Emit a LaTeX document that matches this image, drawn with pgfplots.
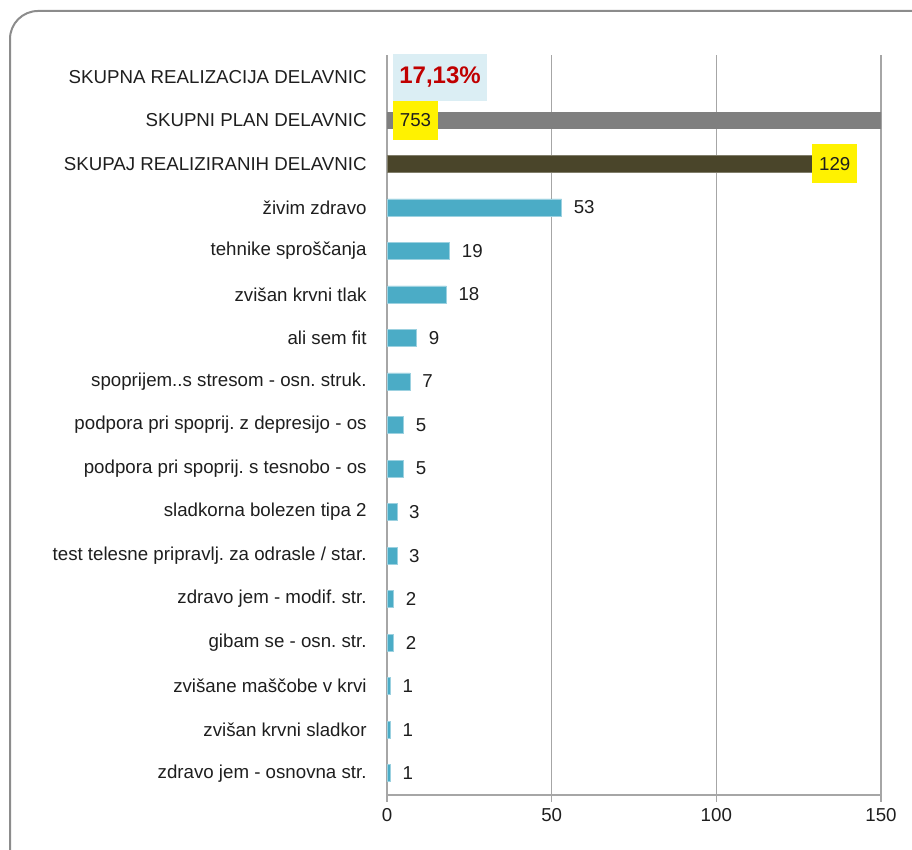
\documentclass[border=0pt]{standalone}
\usepackage{fontspec}
\setmainfont{Liberation Sans}
\usepackage{pgfplots}
\pgfplotsset{compat=1.18}

\definecolor{barblue}{HTML}{4BACC6}
\definecolor{bargray}{HTML}{7F7F7F}
\definecolor{bardark}{HTML}{4A452A}
\definecolor{gridgray}{HTML}{A6A6A6}
\definecolor{framegray}{HTML}{8C8C8C}
\definecolor{boxblue}{HTML}{DBEEF4}
\definecolor{labred}{HTML}{C00000}
\definecolor{txt}{HTML}{1E1E1E}

% rows counted from the bottom: 0 = zdravo jem - osnovna str.
\pgfplotstableread{
y  v
13 53
12 19
11 18
10 9
9  7
8  5
7  5
6  3
5  3
4  2
3  2
2  1
1  1
0  1
}\workshops

\begin{document}
\frenchspacing
\fontsize{18.7pt}{22pt}\selectfont
\begin{tikzpicture}[x=1pt,y=1pt]
\path[use as bounding box, clip] (0,0) rectangle (912,850);
\draw[rounded corners=28pt, framegray, line width=2pt] (10,839) rectangle (980,-60);
\begin{axis}[
  at={(387pt,55pt)}, anchor=south west,
  scale only axis, width=494pt, height=740pt,
  xmin=0, xmax=150, ymin=-0.5, ymax=16.5,
  xtick={0,50,100,150},
  ytick={0,...,16},
  yticklabels={zdravo jem - osnovna str., zvišan krvni sladkor, zvišane maščobe v krvi,
    gibam se - osn. str., zdravo jem - modif. str., test telesne pripravlj. za odrasle / star.,
    sladkorna bolezen tipa 2, podpora pri spoprij. s tesnobo - os,
    podpora pri spoprij. z depresijo - os, spoprijem..s stresom - osn. struk., ali sem fit,
    zvišan krvni tlak, tehnike sproščanja, živim zdravo, SKUPAJ REALIZIRANIH DELAVNIC,
    SKUPNI PLAN DELAVNIC, SKUPNA REALIZACIJA DELAVNIC},
  axis lines*=left,
  axis line style={gridgray, line width=1.3pt, -},
  xmajorgrids=true,
  major grid style={gridgray, line width=1.3pt},
  tick align=outside,
  major tick length=7pt,
  xtick style={gridgray, line width=1.3pt},
  ytick style={draw=none},
  ticklabel style={text=txt, font=\fontsize{18.7pt}{22pt}\selectfont},
  yticklabel style={xshift=-7pt},
  /pgf/number format/assume math mode=true,
]
% planned total, runs past the axis end
\addplot[xbar, bar width=17pt, bar shift=0pt, fill=bargray, draw=none]
  coordinates {(753,15)};
\addplot[xbar, bar width=17pt, bar shift=0pt, fill=bardark, draw=bardark!70!white, line width=0.6pt,
  nodes near coords,
  every node near coord/.append style={anchor=west, fill=yellow, text=txt, inner xsep=7pt,
    minimum height=39pt, xshift=0pt, font=\fontsize{18.7pt}{22pt}\selectfont}]
  coordinates {(129,14)};
\addplot[xbar, bar width=17pt, bar shift=0pt, fill=barblue, draw=barblue!55!white, line width=0.6pt,
  nodes near coords,
  every node near coord/.append style={anchor=west, inner sep=0pt, xshift=12pt, text=txt,
    font=\fontsize{18.7pt}{22pt}\selectfont}]
  table[x=v, y=y] {\workshops};

\node[fill=yellow, text=txt, inner xsep=7pt, minimum height=40pt,
  font=\fontsize{18.7pt}{22pt}\selectfont] at (axis cs:8.65,15) {753};
\node[fill=boxblue, text=labred, minimum width=93pt, minimum height=48pt,
  font=\fontsize{24pt}{28pt}\selectfont\bfseries] at (axis cs:16.1,16) {17,13\%};
\end{axis}
\end{tikzpicture}
\end{document}
